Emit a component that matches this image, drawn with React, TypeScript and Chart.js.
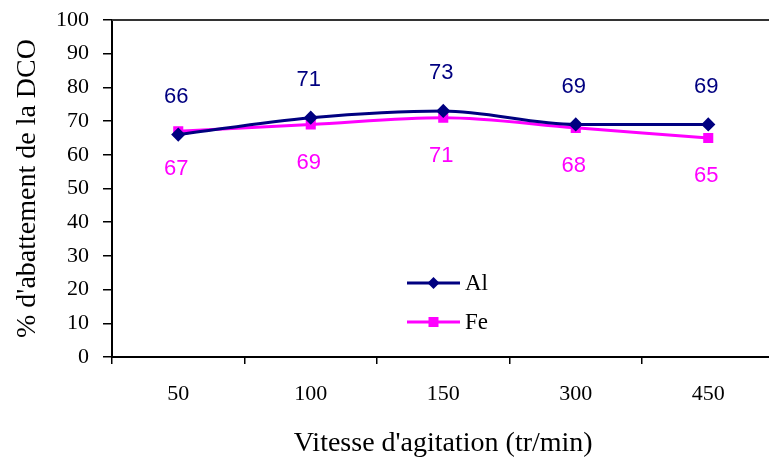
import React, { useEffect, useRef } from "react";
import { Chart, registerables } from "chart.js";

Chart.register(...registerables);

const categories = ["50", "100", "150", "300", "450"];
const alValues = [66, 71, 73, 69, 69];
const feValues = [67, 69, 71, 68, 65];
const yTicks = [0, 10, 20, 30, 40, 50, 60, 70, 80, 90, 100];

const NAVY = "#000080";
const MAGENTA = "#FF00FF";

const valueLabels = {
  id: "valueLabels",
  afterDatasetsDraw(chart: any) {
    const ctx = chart.ctx;
    ctx.save();
    ctx.font = "22px 'Liberation Sans', Arial, sans-serif";
    ctx.textAlign = "center";
    ctx.textBaseline = "middle";
    chart.data.datasets.forEach((ds: any, i: number) => {
      const meta = chart.getDatasetMeta(i);
      const above = i === 0;
      meta.data.forEach((pt: any, j: number) => {
        ctx.fillStyle = ds.borderColor;
        const y = above ? pt.y - 38 : pt.y + 38;
        ctx.fillText(String(ds.data[j]), pt.x - 2, y);
      });
    });
    ctx.restore();
  },
};

const frame = {
  id: "frame",
  afterDraw(chart: any) {
    const { ctx, chartArea } = chart;
    ctx.save();
    ctx.strokeStyle = "#333";
    ctx.lineWidth = 2;
    ctx.beginPath();
    ctx.moveTo(chartArea.left, chartArea.top);
    ctx.lineTo(chartArea.right, chartArea.top);
    ctx.lineTo(chartArea.right, chartArea.bottom);
    ctx.stroke();
    ctx.restore();
  },
};

const customLegend = {
  id: "customLegend",
  afterDraw(chart: any) {
    const ctx = chart.ctx;
    const rows = [283, 322];
    const x0 = 407;
    const x1 = 460;
    ctx.save();
    chart.data.datasets.forEach((ds: any, i: number) => {
      const y = rows[i];
      ctx.strokeStyle = ds.borderColor;
      ctx.lineWidth = 3;
      ctx.beginPath();
      ctx.moveTo(x0, y);
      ctx.lineTo(x1, y);
      ctx.stroke();
      ctx.fillStyle = ds.borderColor;
      const cx = (x0 + x1) / 2;
      const r = ds.pointRadius;
      ctx.beginPath();
      if (ds.pointStyle === "rectRot") {
        ctx.moveTo(cx, y - r - 1);
        ctx.lineTo(cx + r + 1, y);
        ctx.lineTo(cx, y + r + 1);
        ctx.lineTo(cx - r - 1, y);
        ctx.closePath();
      } else {
        ctx.rect(cx - r, y - r, 2 * r, 2 * r);
      }
      ctx.fill();
      ctx.fillStyle = "#000";
      ctx.font = "23px 'Liberation Serif', 'Times New Roman', serif";
      ctx.textAlign = "left";
      ctx.textBaseline = "middle";
      ctx.fillText(ds.label, x1 + 5, y + 1);
    });
    ctx.restore();
  },
};

export default function App() {
  const ref = useRef<HTMLCanvasElement | null>(null);
  useEffect(() => {
    if (!ref.current) return;
    const serif = "'Liberation Serif', 'Times New Roman', serif";
    const chart = new Chart(ref.current, {
      type: "line",
      data: {
        labels: categories,
        datasets: [
          {
            label: "Al",
            data: alValues,
            borderColor: NAVY,
            backgroundColor: NAVY,
            borderWidth: 3,
            pointStyle: "rectRot",
            pointRadius: 5,
            pointBackgroundColor: NAVY,
            pointBorderColor: NAVY,
            cubicInterpolationMode: "monotone",
          },
          {
            label: "Fe",
            data: feValues,
            borderColor: MAGENTA,
            backgroundColor: MAGENTA,
            borderWidth: 3,
            pointStyle: "rect",
            pointRadius: 5,
            pointBackgroundColor: MAGENTA,
            pointBorderColor: MAGENTA,
            cubicInterpolationMode: "monotone",
          },
        ],
      },
      options: {
        animation: false,
        responsive: false,
        devicePixelRatio: 1,
        layout: { padding: { top: 20, left: 0, right: 15.5, bottom: 0 } },
        plugins: {
          legend: { display: false },
          tooltip: { enabled: false },
        },
        scales: {
          x: {
            offset: true,
            grid: {
              offset: true,
              drawOnChartArea: false,
              drawTicks: true,
              tickLength: 7,
              color: "#000",
              lineWidth: 1.5,
            },
            border: { display: true, color: "#000", width: 2 },
            ticks: {
              color: "#000",
              font: { family: serif, size: 22 },
              padding: 17,
              maxRotation: 0,
            },
            title: {
              display: true,
              text: "Vitesse d'agitation (tr/min)",
              color: "#000",
              font: { family: serif, size: 28 },
              padding: { top: 0, bottom: 3 },
            },
            afterFit(scale: any) {
              scale.height = 106;
              scale.paddingLeft = 0;
              scale.paddingRight = 0;
            },
          },
          y: {
            min: 0,
            max: 100,
            afterBuildTicks(scale: any) {
              scale.ticks = yTicks.map((v) => ({ value: v }));
            },
            grid: {
              drawOnChartArea: false,
              drawTicks: true,
              tickLength: 9,
              color: "#000",
              lineWidth: 1.5,
            },
            border: { display: true, color: "#000", width: 2 },
            ticks: {
              color: "#000",
              font: { family: serif, size: 22 },
              padding: 14,
            },
            title: {
              display: true,
              text: "% d'abattement de la DCO",
              color: "#000",
              font: { family: serif, size: 28 },
              padding: { top: 11, bottom: 0 },
            },
            afterFit(scale: any) {
              scale.width = 112;
              scale.paddingTop = 0;
              scale.paddingBottom = 0;
            },
          },
        },
      },
      plugins: [valueLabels, frame, customLegend],
    });
    return () => chart.destroy();
  }, []);
  return (
    <div
      style={{
        position: "absolute",
        left: 0,
        top: 0,
        width: 769,
        height: 463,
        overflow: "hidden",
        background: "#fff",
      }}
    >
      <canvas ref={ref} width={790} height={463} style={{ width: 790, height: 463, display: "block" }} />
    </div>
  );
}
